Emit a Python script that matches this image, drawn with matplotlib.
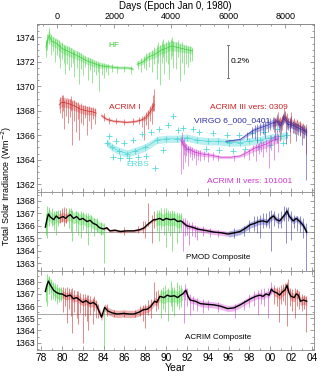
import matplotlib.pyplot as plt
import numpy as np
from matplotlib.ticker import MultipleLocator, FuncFormatter

plt.rcParams['font.family'] = ['Liberation Sans', 'DejaVu Sans']

nan = np.nan
pal = {'g': '#33cc33', 'r': '#cc2222', 'm': '#cc33cc', 'b': '#2a2aa8', 'c': '#55d8d8'}

# x is the year - 1900, values in W/m2

# ---------------- top panel: the single radiometers ----------------
hf_x = [78.45, 78.77, 79.0, 79.5, 80.0, 80.75, 81.5, 82.35, 83.0, 83.6, 84.5, 85.5, 86.4, 86.85, nan,
        87.2, 87.8, 88.3, 88.9, 89.6, 90.0, 90.5, 91.0, 91.5, 92.0, 92.55]
hf_y = [1373.2, 1374.2, 1373.7, 1373.5, 1373.1, 1372.8, 1372.5, 1372.1, 1371.9, 1371.7, 1371.6, 1371.5, 1371.5, 1371.4, nan,
        1371.8, 1372.0, 1372.4, 1372.6, 1373.0, 1373.1, 1373.3, 1373.2, 1373.1, 1373.0, 1372.9]
hf_w = [0.4, 0.4, 0.4, 0.4, 0.4, 0.4, 0.35, 0.3, 0.3, 0.25, 0.15, 0.12, 0.12, 0.12, nan,
        0.2, 0.25, 0.3, 0.35, 0.4, 0.4, 0.4, 0.4, 0.35, 0.3, 0.3]
hf_spikes = [(78.5, 1372.4, 1373.8), (78.6, 1373.0, 1374.3), (78.77, 1373.5, 1374.8), (78.9, 1372.6, 1374.3),
             (79.1, 1372.9, 1374.0), (79.3, 1372.0, 1373.9), (79.5, 1372.6, 1373.9), (79.7, 1372.3, 1373.8),
             (79.8, 1371.5, 1373.5), (80.0, 1372.2, 1373.6), (80.2, 1371.9, 1373.4), (80.3, 1371.0, 1373.3),
             (80.5, 1371.8, 1373.3), (80.7, 1371.3, 1373.2), (80.9, 1371.6, 1373.1), (81.1, 1371.9, 1373.0),
             (81.2, 1370.8, 1372.9), (81.4, 1371.5, 1372.9), (81.6, 1370.2, 1372.8), (81.8, 1371.4, 1372.7),
             (82.0, 1370.9, 1372.6), (82.2, 1371.6, 1372.5), (82.5, 1370.5, 1372.4), (82.7, 1371.3, 1372.3),
             (82.9, 1370.3, 1372.2), (83.1, 1371.2, 1372.1), (83.3, 1370.9, 1372.1), (83.5, 1371.2, 1372.0),
             (83.6, 1369.6, 1371.9), (83.8, 1370.9, 1371.9), (84.0, 1370.7, 1371.9), (84.2, 1371.2, 1371.8),
             (84.4, 1370.9, 1371.8), (84.8, 1371.2, 1371.8), (85.3, 1371.1, 1371.7), (86.0, 1371.2, 1371.7),
             (86.6, 1371.0, 1371.7), (87.3, 1371.4, 1372.1), (87.6, 1371.2, 1372.3), (87.9, 1371.5, 1372.5),
             (88.1, 1371.3, 1372.7), (88.4, 1371.6, 1372.8), (88.6, 1371.2, 1373.0), (88.8, 1371.8, 1373.2),
             (89.1, 1370.6, 1373.4), (89.2, 1371.9, 1373.6), (89.4, 1370.1, 1373.4), (89.6, 1371.9, 1373.7),
             (89.7, 1372.4, 1373.9), (89.8, 1371.0, 1373.5), (90.0, 1372.0, 1373.6), (90.2, 1371.8, 1373.8),
             (90.3, 1370.6, 1373.6), (90.5, 1372.2, 1373.9), (90.6, 1372.5, 1374.0), (90.7, 1371.5, 1373.7),
             (90.9, 1371.4, 1373.6), (91.1, 1372.4, 1373.8), (91.3, 1370.4, 1373.5), (91.5, 1371.9, 1373.6),
             (91.7, 1371.0, 1373.4), (91.9, 1371.8, 1373.4), (92.1, 1371.6, 1373.3), (92.3, 1372.0, 1373.3),
             (92.5, 1372.1, 1373.1)]

a1_x = [79.73, 80.0, 80.6, 81.2, 81.7, 82.3, 83.0, 83.3, nan, 83.8, 84.3, 84.9, 85.5, 86.2, 87.0, 87.66, 88.0, 88.3, 88.6, 88.87]
a1_y = [1368.5, 1368.7, 1368.6, 1368.4, 1368.15, 1368.0, 1367.9, 1367.8, nan,
        1367.6, 1367.3, 1367.15, 1367.1, 1367.05, 1367.1, 1367.25, 1367.4, 1367.7, 1368.1, 1368.5]
a1_w = [0.4, 0.4, 0.4, 0.4, 0.35, 0.35, 0.3, 0.3, nan, 0.15, 0.12, 0.1, 0.1, 0.1, 0.1, 0.12, 0.25, 0.3, 0.35, 0.4]
a1_spikes = [(79.8, 1367.8, 1369.1), (80.0, 1367.4, 1369.3), (80.1, 1368.0, 1369.3), (80.2, 1366.5, 1368.9),
             (80.4, 1367.6, 1369.0), (80.6, 1367.0, 1369.0), (80.8, 1367.5, 1369.0), (80.9, 1368.0, 1369.2),
             (81.0, 1365.2, 1368.8), (81.2, 1367.2, 1368.9), (81.3, 1366.3, 1368.7), (81.5, 1367.3, 1368.7),
             (81.6, 1365.6, 1368.5), (81.8, 1367.0, 1368.6), (82.0, 1366.8, 1368.5), (82.2, 1367.4, 1368.5),
             (82.4, 1366.0, 1368.4), (82.6, 1367.2, 1368.4), (82.8, 1366.5, 1368.3), (83.0, 1367.3, 1368.3),
             (83.2, 1366.9, 1368.2), (84.0, 1367.2, 1367.8), (84.5, 1366.9, 1367.5), (85.2, 1366.9, 1367.4),
             (86.0, 1366.8, 1367.3), (86.8, 1366.8, 1367.4), (87.4, 1366.9, 1367.5), (87.7, 1366.7, 1367.6),
             (87.9, 1365.6, 1367.6), (88.1, 1366.8, 1367.9), (88.3, 1366.5, 1368.1), (88.45, 1367.2, 1368.4),
             (88.6, 1366.9, 1368.6), (88.7, 1368.0, 1369.3), (88.85, 1368.0, 1369.8)]

erbs_x = [84.3, 84.8, 85.5, 86.25, 87.0, 88.0, 89.1, 90.0, 91.0, 92.0, 93.0, 94.0, 95.0, 96.0, 97.1, 98.0, 99.0, 100.0, 101.0, 101.6]
erbs_y = [1365.4, 1365.0, 1364.7, 1364.5, 1364.7, 1365.0, 1365.6, 1365.7, 1365.7, 1365.8, 1365.6, 1365.5, 1365.5, 1365.4,
          1365.4, 1365.5, 1365.6, 1365.8, 1365.9, 1366.0]
erbs_px = [84.5, 84.9, 85.2, 85.6, 86.0, 86.4, 86.8, 87.3, 87.7, 88.1, 88.5, 88.9, 89.3, 89.7, 90.2, 90.7, 91.1,
           91.6, 92.1, 92.6, 93.2, 93.8, 94.5, 95.1, 95.8, 96.4, 97.0, 97.6, 98.2, 98.8, 99.4, 100.0, 100.6, 101.2]
erbs_py = [1365.9, 1364.2, 1365.5, 1364.1, 1365.4, 1364.1, 1365.6, 1364.2, 1366.1, 1364.3, 1366.3, 1363.3, 1366.5, 1364.8,
           1366.8, 1367.6, 1366.4, 1366.6, 1364.9, 1366.5, 1366.3, 1364.9, 1366.2, 1364.8, 1366.0, 1364.7, 1366.0,
           1364.9, 1366.2, 1365.0, 1366.3, 1365.2, 1366.5, 1365.4]

a2_x = [91.4, 91.7, 92.0, 92.8, 93.5, 94.4, 95.2, 96.2, 97.1, 97.8, 98.4, 99.0, 99.7, 100.3, 100.8]
a2_y = [1365.6, 1365.2, 1364.9, 1364.6, 1364.45, 1364.35, 1364.2, 1364.2, 1364.3, 1364.6, 1364.9, 1365.1, 1365.3, 1365.6, 1365.7]
a2_w = [0.4, 0.35, 0.3, 0.25, 0.2, 0.15, 0.12, 0.12, 0.12, 0.2, 0.25, 0.3, 0.3, 0.35, 0.35]
a2_spikes = [(91.45, 1362.8, 1365.8), (91.5, 1365.2, 1366.3), (91.6, 1363.2, 1365.6), (91.7, 1364.4, 1365.8),
             (91.8, 1363.8, 1365.4), (91.95, 1364.3, 1365.3), (92.1, 1363.5, 1365.1), (92.3, 1364.2, 1365.1),
             (92.5, 1364.0, 1365.0), (92.7, 1364.1, 1364.9), (92.9, 1363.6, 1364.9), (93.1, 1364.0, 1364.8),
             (93.3, 1363.9, 1364.8), (93.6, 1364.0, 1364.7), (94.0, 1363.8, 1364.6), (94.5, 1364.0, 1364.6),
             (95.0, 1363.9, 1364.4), (96.5, 1363.9, 1364.4), (97.5, 1364.1, 1364.8), (98.0, 1364.0, 1364.9),
             (98.3, 1364.3, 1365.2), (98.6, 1363.9, 1365.3), (98.9, 1364.5, 1365.4), (99.1, 1364.6, 1365.5),
             (99.3, 1364.2, 1365.5), (99.6, 1364.6, 1365.7), (99.9, 1363.3, 1365.6), (100.1, 1364.8, 1366.0),
             (100.4, 1364.0, 1366.0), (100.6, 1365.4, 1366.4), (100.7, 1364.6, 1366.1)]

a3_x = [100.3, 100.6, 101.0, 101.3, 101.7, 102.2, 102.7, 103.2, 103.5]
a3_y = [1366.9, 1367.2, 1367.0, 1367.6, 1367.1, 1366.9, 1366.8, 1366.5, 1366.3]
a3_w = [0.35, 0.35, 0.35, 0.35, 0.35, 0.35, 0.35, 0.35, 0.35]
a3_spikes = [(100.4, 1366.3, 1367.5), (100.7, 1366.8, 1367.9), (100.9, 1365.5, 1367.5), (101.1, 1366.4, 1367.6),
             (101.3, 1367.0, 1368.2), (101.6, 1366.5, 1367.8), (101.9, 1365.4, 1367.5), (102.0, 1366.8, 1367.9),
             (102.3, 1366.2, 1367.4), (102.6, 1366.1, 1367.3), (102.9, 1366.0, 1367.2), (103.1, 1365.8, 1367.0),
             (103.4, 1364.5, 1366.9)]

vg_x = [95.7, 96.2, 97.1, 97.7, 98.4, 99.0, 99.7, 100.2, 100.6, 101.0, 101.3, 101.7, 102.2, 102.7, 103.2, 103.5]
vg_y = [1365.5, 1365.55, 1365.65, 1366.0, 1366.4, 1366.6, 1366.8, 1367.0, 1367.1, 1366.8, 1367.4, 1366.9, 1366.8,
        1366.6, 1366.4, 1366.2]
vg_w = [0.08, 0.08, 0.08, 0.15, 0.2, 0.25, 0.25, 0.3, 0.3, 0.3, 0.3, 0.3, 0.3, 0.3, 0.3, 0.3]
vg_spikes = [(97.8, 1365.6, 1366.3), (98.2, 1365.8, 1366.7), (98.5, 1365.7, 1366.8), (98.7, 1365.4, 1366.9),
             (99.0, 1366.0, 1367.0), (99.3, 1366.1, 1367.1), (99.5, 1365.8, 1367.2), (99.8, 1366.3, 1367.3),
             (100.0, 1366.4, 1367.4), (100.3, 1366.5, 1367.5), (100.5, 1365.6, 1367.4), (100.6, 1367.0, 1367.7),
             (100.8, 1366.3, 1367.3), (101.0, 1366.2, 1367.2), (101.2, 1366.8, 1367.7), (101.4, 1367.3, 1368.0),
             (101.5, 1365.3, 1367.6), (101.7, 1366.4, 1367.4), (101.9, 1366.3, 1367.3), (102.0, 1366.7, 1367.6),
             (102.2, 1366.2, 1367.2), (102.4, 1366.1, 1367.1), (102.5, 1365.5, 1367.0), (102.7, 1366.0, 1367.0),
             (102.9, 1365.9, 1366.9), (103.0, 1365.2, 1366.8), (103.2, 1365.8, 1366.8), (103.4, 1362.3, 1366.6)]

# ---------------- PMOD composite ----------------
pm_pts = [(78.4, 1365.9), (78.55, 1366.5), (78.7, 1366.95), (78.9, 1366.7), (79.2, 1366.5), (79.45, 1366.8),
          (79.7, 1366.6), (80.1, 1366.75), (80.35, 1366.6), (80.6, 1366.8), (80.8, 1366.9), (81.1, 1366.6),
          (81.4, 1366.75), (81.7, 1366.5), (82.0, 1366.6), (82.4, 1366.35), (82.7, 1366.45), (83.0, 1366.2),
          (83.3, 1366.1), (83.6, 1365.85), (83.8, 1365.8), (84.0, 1365.75), (84.3, 1365.85), (84.6, 1365.6),
          (85.1, 1365.65), (85.6, 1365.55), (86.2, 1365.6), (86.9, 1365.6), (87.5, 1365.7), (87.9, 1365.85),
          (88.2, 1366.1), (88.5, 1366.3), (88.8, 1366.5), (89.0, 1366.5), (89.4, 1366.6), (89.7, 1366.45),
          (90.0, 1366.6), (90.4, 1366.5), (90.8, 1366.55), (91.1, 1366.35), (91.4, 1366.4), (91.5, 1366.35),
          (92.0, 1366.0), (92.5, 1365.9), (93.0, 1365.75), (93.3, 1365.7), (94.0, 1365.6), (94.6, 1365.5),
          (95.3, 1365.45), (95.9, 1365.35), (96.0, 1365.35), (96.6, 1365.45), (97.1, 1365.55), (97.6, 1365.8),
          (98.1, 1366.1), (98.5, 1366.2), (98.9, 1366.35), (99.3, 1366.4), (99.7, 1366.3), (100.0, 1366.6),
          (100.3, 1366.8), (100.6, 1366.5), (100.9, 1366.4), (101.2, 1366.7), (101.4, 1366.9), (101.6, 1367.2),
          (101.8, 1366.8), (102.0, 1366.6), (102.2, 1366.4), (102.5, 1366.6), (102.9, 1366.3), (103.2, 1366.0),
          (103.5, 1365.5)]
pm_seg = [78.4, 79.7, 80.6, 84.0, 89.0, 91.5, 96.0, 103.5]
pm_seg_col = "grgrgmb"
pm_seg_w = [0.45, 0.35, 0.45, 0.12, 0.5, 0.2, 0.25]
pm_spikes = [(78.5, 'g', 1365.3, 1367.0), (78.6, 'g', 1365.0, 1367.6), (78.8, 'g', 1366.0, 1367.5),
             (79.0, 'g', 1366.0, 1367.4), (79.2, 'g', 1365.7, 1367.2), (79.4, 'g', 1365.3, 1367.2),
             (79.6, 'g', 1366.0, 1367.3), (79.8, 'r', 1366.2, 1367.3), (80.0, 'r', 1366.3, 1367.4),
             (80.2, 'r', 1366.0, 1367.5), (80.4, 'r', 1366.2, 1367.4), (80.7, 'g', 1365.8, 1367.4),
             (80.9, 'g', 1365.5, 1367.4), (81.0, 'g', 1364.8, 1367.3), (81.3, 'g', 1365.6, 1367.2),
             (81.5, 'g', 1365.3, 1367.1), (81.8, 'g', 1365.0, 1367.2), (82.0, 'g', 1365.7, 1367.1),
             (82.3, 'g', 1365.4, 1367.0), (82.5, 'g', 1364.5, 1367.0), (82.8, 'g', 1365.5, 1366.9),
             (83.1, 'g', 1365.2, 1366.6), (83.4, 'g', 1365.5, 1366.6), (83.7, 'g', 1365.3, 1366.3),
             (84.0, 'g', 1363.0, 1366.2), (86.0, 'r', 1365.3, 1365.9), (87.3, 'r', 1365.4, 1366.0),
             (87.8, 'r', 1365.4, 1366.4), (88.0, 'r', 1365.0, 1366.4), (88.3, 'r', 1366.0, 1367.8),
             (88.6, 'r', 1364.6, 1366.9), (88.8, 'r', 1365.8, 1367.2), (89.1, 'g', 1365.6, 1367.3),
             (89.3, 'g', 1364.8, 1367.3), (89.5, 'g', 1365.7, 1367.4), (89.8, 'g', 1365.3, 1367.4),
             (90.0, 'g', 1364.3, 1367.4), (90.2, 'g', 1365.6, 1367.3), (90.4, 'g', 1365.2, 1367.2),
             (90.6, 'g', 1364.0, 1367.3), (90.8, 'g', 1365.5, 1367.2), (91.0, 'g', 1364.6, 1367.1),
             (91.2, 'g', 1365.4, 1367.0), (91.4, 'g', 1365.6, 1367.0), (91.6, 'm', 1364.0, 1366.6),
             (91.8, 'm', 1365.2, 1366.6), (92.0, 'm', 1365.3, 1366.5), (92.2, 'm', 1364.5, 1366.3),
             (92.5, 'm', 1365.2, 1366.3), (92.8, 'm', 1365.1, 1366.1), (93.0, 'm', 1364.9, 1366.0),
             (93.5, 'm', 1365.2, 1366.0), (94.2, 'm', 1365.1, 1365.8), (95.0, 'm', 1365.1, 1365.7),
             (96.5, 'b', 1365.0, 1365.8), (97.5, 'b', 1365.2, 1366.0), (98.0, 'b', 1365.5, 1366.5),
             (98.4, 'b', 1365.6, 1366.8), (98.7, 'b', 1365.4, 1366.8), (99.0, 'b', 1365.0, 1366.9),
             (99.3, 'b', 1365.8, 1367.0), (99.6, 'b', 1365.9, 1367.0), (99.9, 'b', 1365.8, 1367.2),
             (100.1, 'b', 1364.0, 1367.3), (100.4, 'b', 1366.0, 1367.2), (100.7, 'b', 1365.8, 1367.0),
             (101.0, 'b', 1365.8, 1367.2), (101.3, 'b', 1366.4, 1367.6), (101.5, 'b', 1364.6, 1367.5),
             (101.7, 'b', 1366.4, 1367.5), (102.0, 'b', 1364.9, 1367.2), (102.3, 'b', 1365.8, 1366.9),
             (102.6, 'b', 1365.6, 1366.8), (102.9, 'b', 1365.5, 1366.8), (103.1, 'b', 1365.0, 1366.6),
             (103.4, 'b', 1362.4, 1366.2)]
pm_ref = 1365.5

# ---------------- ACRIM composite ----------------
ac_pts = [(78.4, 1367.2), (78.55, 1367.7), (78.7, 1368.05), (78.9, 1367.7), (79.2, 1367.3), (79.5, 1367.1),
          (79.8, 1367.0), (80.0, 1367.0), (80.4, 1366.8), (80.8, 1366.9), (81.1, 1366.6), (81.4, 1366.7),
          (81.7, 1366.5), (82.0, 1366.3), (82.3, 1366.45), (82.7, 1366.2), (83.0, 1366.3), (83.3, 1366.1),
          (83.6, 1365.5), (83.8, 1365.1), (84.1, 1365.9), (84.4, 1365.6), (84.8, 1365.45), (85.3, 1365.35),
          (85.9, 1365.4), (86.5, 1365.35), (86.9, 1365.35), (87.4, 1365.5), (87.8, 1365.7), (88.2, 1365.75),
          (88.5, 1365.95), (88.9, 1366.4), (89.1, 1366.3), (89.4, 1366.8), (89.8, 1366.7), (90.1, 1366.9),
          (90.4, 1366.8), (90.8, 1366.85), (91.1, 1366.7), (91.4, 1366.9), (91.6, 1367.0), (91.9, 1367.3),
          (92.1, 1366.8), (92.3, 1366.5), (92.8, 1366.4), (93.3, 1366.2), (93.9, 1366.15), (94.6, 1366.1),
          (95.2, 1366.0), (95.9, 1365.8), (96.5, 1365.85), (97.1, 1366.1), (97.6, 1366.35), (98.1, 1366.6),
          (98.6, 1366.8), (99.0, 1366.9), (99.3, 1366.8), (99.6, 1367.0), (99.9, 1366.9), (100.1, 1367.4),
          (100.3, 1367.2), (100.6, 1367.1), (100.9, 1366.9), (101.2, 1367.2), (101.4, 1367.3), (101.6, 1367.7),
          (101.8, 1367.1), (102.0, 1366.8), (102.3, 1366.7), (102.5, 1367.0), (102.7, 1366.9), (102.9, 1366.4),
          (103.2, 1366.5), (103.5, 1366.4)]
ac_seg = [78.4, 80.0, 89.4, 91.6, 100.3, 103.5]
ac_seg_col = "grgmr"
ac_seg_w = [0.45, 0.3, 0.5, 0.25, 0.35]
ac_spikes = [(78.5, 'g', 1366.3, 1367.8), (78.6, 'g', 1366.0, 1368.6), (78.8, 'g', 1367.0, 1368.5),
             (78.9, 'g', 1366.5, 1368.2), (79.1, 'g', 1366.6, 1368.0), (79.3, 'g', 1366.4, 1367.9),
             (79.5, 'g', 1366.2, 1367.8), (79.7, 'g', 1366.3, 1367.6), (79.9, 'g', 1366.4, 1367.6),
             (80.1, 'r', 1365.5, 1367.6), (80.3, 'r', 1366.0, 1367.5), (80.5, 'r', 1364.6, 1367.6),
             (80.7, 'r', 1365.8, 1367.5), (80.9, 'r', 1365.2, 1367.4), (81.0, 'r', 1363.8, 1367.5),
             (81.2, 'r', 1365.5, 1367.3), (81.4, 'r', 1365.0, 1367.2), (81.5, 'r', 1364.5, 1367.2),
             (81.7, 'r', 1365.4, 1367.1), (82.0, 'r', 1363.0, 1367.0), (82.2, 'r', 1365.2, 1367.0),
             (82.4, 'r', 1364.8, 1366.9), (82.5, 'r', 1364.0, 1366.9), (82.7, 'r', 1365.3, 1366.8),
             (83.0, 'r', 1364.5, 1366.7), (83.1, 'r', 1365.6, 1366.8), (83.3, 'r', 1365.0, 1366.5),
             (83.5, 'r', 1365.0, 1366.2), (84.0, 'g', 1362.6, 1366.0), (84.3, 'r', 1365.2, 1366.2),
             (85.0, 'r', 1365.1, 1365.7), (86.0, 'r', 1365.1, 1365.6), (87.0, 'r', 1365.1, 1365.7),
             (87.5, 'r', 1365.2, 1366.0), (87.8, 'r', 1364.8, 1366.1), (88.0, 'r', 1364.2, 1366.2),
             (88.3, 'r', 1365.3, 1366.5), (88.5, 'r', 1365.0, 1366.6), (88.8, 'r', 1366.3, 1368.0),
             (89.0, 'r', 1365.6, 1367.2), (89.2, 'r', 1365.8, 1367.3), (89.5, 'g', 1365.0, 1367.4),
             (89.7, 'g', 1365.8, 1367.6), (89.9, 'g', 1365.5, 1367.7), (90.2, 'g', 1364.8, 1367.5),
             (90.5, 'g', 1366.0, 1368.1), (90.6, 'g', 1365.6, 1367.6), (90.8, 'g', 1365.2, 1367.6),
             (91.0, 'g', 1366.0, 1368.0), (91.2, 'g', 1365.8, 1367.7), (91.4, 'g', 1365.9, 1367.7),
             (91.7, 'm', 1364.6, 1367.3), (91.8, 'm', 1366.5, 1367.8), (92.0, 'm', 1366.0, 1367.5),
             (92.3, 'm', 1365.3, 1367.0), (92.6, 'm', 1365.7, 1366.8), (93.0, 'm', 1365.6, 1366.7),
             (93.5, 'm', 1365.4, 1366.6), (94.0, 'm', 1365.7, 1366.5), (95.0, 'm', 1365.5, 1366.3),
             (96.6, 'm', 1365.0, 1366.2), (97.5, 'm', 1365.7, 1366.5), (98.0, 'm', 1365.9, 1367.0),
             (98.4, 'm', 1366.0, 1367.2), (98.8, 'm', 1365.3, 1367.3), (99.1, 'm', 1366.2, 1367.4),
             (99.4, 'm', 1366.0, 1367.5), (99.8, 'm', 1365.0, 1367.5), (100.1, 'm', 1367.0, 1368.0),
             (100.4, 'r', 1366.2, 1367.7), (100.6, 'r', 1366.0, 1367.6), (100.8, 'r', 1364.7, 1367.6),
             (101.0, 'r', 1366.2, 1367.7), (101.2, 'r', 1366.4, 1367.8), (101.4, 'r', 1366.1, 1367.9),
             (101.6, 'r', 1364.4, 1367.9), (101.7, 'r', 1367.3, 1368.2), (101.9, 'r', 1366.0, 1367.5),
             (102.1, 'r', 1365.6, 1367.4), (102.4, 'r', 1365.0, 1367.5), (102.6, 'r', 1366.0, 1367.4),
             (102.8, 'r', 1365.8, 1367.2), (103.0, 'r', 1365.6, 1367.0), (103.2, 'r', 1365.8, 1366.9),
             (103.4, 'r', 1363.9, 1366.8)]
ac_ref = 1365.35

DAY0 = 79.54  # where day 0 sits on the year axis in the picture


def noisy(ax, x, y, w, color, spikes):
    x = np.array(x, float)
    y = np.array(y, float)
    w = np.array(w, float)
    ax.fill_between(x, y - w, y + w, color=color, alpha=0.3, lw=0, zorder=2)
    ax.plot(x, y, color=color, lw=0.5, alpha=0.9, zorder=2)
    sx, lo, hi = zip(*spikes)
    ax.vlines(sx, lo, hi, color=color, lw=0.5, alpha=0.7, zorder=2)


def composite(ax, pts, seg, segcol, segw, spikes, ref, label):
    x, y = (np.array(a, float) for a in zip(*pts))
    ax.axhline(ref, color='#999999', lw=0.6, zorder=1)
    for i, c in enumerate(segcol):
        m = (x >= seg[i]) & (x <= seg[i + 1])
        ax.fill_between(x[m], y[m] - segw[i], y[m] + segw[i], color=pal[c], alpha=0.35, lw=0, zorder=2)
    for xx, c, lo, hi in spikes:
        ax.vlines(xx, lo, hi, color=pal[c], lw=0.5, alpha=0.75, zorder=2)
    ax.plot(x, y, color='black', lw=1.0, zorder=3)
    ax.text(95.0, 1363.45, label, fontsize=5.8, ha='center', va='center')


fig = plt.figure(figsize=(3.2, 3.76), dpi=100)
L, W = 37 / 320, 277 / 320
ax1 = fig.add_axes([L, 1 - 192 / 376, W, 168 / 376])
ax2 = fig.add_axes([L, 1 - 271 / 376, W, 79 / 376], sharex=ax1)
ax3 = fig.add_axes([L, 1 - 350 / 376, W, 79 / 376], sharex=ax1)

noisy(ax1, hf_x, hf_y, hf_w, pal['g'], hf_spikes)
noisy(ax1, a1_x, a1_y, a1_w, pal['r'], a1_spikes)
ex = np.array(erbs_x)
ey = np.array(erbs_y)
ax1.fill_between(ex, ey - 0.3, ey + 0.3, color=pal['c'], alpha=0.4, lw=0, zorder=2)
ax1.plot(ex, ey, color=pal['c'], lw=0.5, marker='+', ms=4, mew=0.6, zorder=2)
ax1.plot(erbs_px, erbs_py, ls='none', color=pal['c'], marker='+', ms=4, mew=0.6, zorder=2)
noisy(ax1, a2_x, a2_y, a2_w, pal['m'], a2_spikes)
noisy(ax1, a3_x, a3_y, a3_w, pal['r'], a3_spikes)
noisy(ax1, vg_x, vg_y, vg_w, pal['b'], vg_spikes)

fs = 6.0
ax1.text(85.0, 1373.3, 'HF', color=pal['g'], fontsize=fs, ha='center', va='center')
ax1.text(86.0, 1368.3, 'ACRIM I', color=pal['r'], fontsize=fs, ha='center', va='center')
ax1.text(97.9, 1368.3, 'ACRIM III vers: 0309', color=pal['r'], fontsize=fs, ha='center', va='center')
ax1.text(96.3, 1367.2, 'VIRGO 6_000_0401', color=pal['b'], fontsize=fs, ha='center', va='center')
ax1.text(87.3, 1363.6, 'ERBS', color=pal['c'], fontsize=fs, ha='center', va='center')
ax1.text(98.0, 1362.2, 'ACRIM II vers: 101001', color=pal['m'], fontsize=fs, ha='center', va='center')

# 0.2 % scale bar
ax1.plot([95.9, 95.9], [1370.7, 1373.4], color='#777777', lw=0.7)
ax1.plot([95.8, 96.0], [1370.7, 1370.7], color='#777777', lw=0.7)
ax1.plot([95.8, 96.0], [1373.4, 1373.4], color='#777777', lw=0.7)
ax1.text(96.15, 1372.05, '0.2%', fontsize=fs, va='center')

composite(ax2, pm_pts, pm_seg, pm_seg_col, pm_seg_w, pm_spikes, pm_ref, 'PMOD Composite')
composite(ax3, ac_pts, ac_seg, ac_seg_col, ac_seg_w, ac_spikes, ac_ref, 'ACRIM Composite')

ax1.set_ylim(1361.35, 1375.1)
ax2.set_ylim(1362.38, 1368.72)
ax3.set_ylim(1362.4, 1368.88)
ax1.set_xlim(77.6, 104.2)

ax1.yaxis.set_major_locator(MultipleLocator(2))
ax1.yaxis.set_minor_locator(MultipleLocator(0.5))
for ax in (ax2, ax3):
    ax.yaxis.set_major_locator(MultipleLocator(1))
    ax.yaxis.set_minor_locator(MultipleLocator(0.5))

for ax in (ax1, ax2, ax3):
    ax.xaxis.set_major_locator(MultipleLocator(2))
    ax.xaxis.set_minor_locator(MultipleLocator(1))
    ax.tick_params(which='both', direction='in', top=True, right=True, color='#777777', width=0.5,
                   labelsize=6.3, pad=1.5)
    ax.tick_params(which='major', length=3)
    ax.tick_params(which='minor', length=1.5)
    for s in ax.spines.values():
        s.set_color('#888888')
        s.set_linewidth(0.6)
ax1.tick_params(which='both', top=False, labelbottom=False)
ax2.tick_params(labelbottom=False)
ax3.xaxis.set_major_formatter(FuncFormatter(lambda v, p: '%02d' % (int(round(v)) % 100)))
ax3.tick_params(axis='x', labelsize=7.3, pad=2)
ax3.set_xlabel('Year', fontsize=7.5, labelpad=0)

sec = ax1.secondary_xaxis('top', functions=(lambda t: (t - DAY0) * 365.25, lambda d: d / 365.25 + DAY0))
sec.set_xticks([0, 2000, 4000, 6000, 8000])
sec.xaxis.set_minor_locator(MultipleLocator(500))
sec.tick_params(which='both', direction='in', color='#777777', width=0.5, labelsize=6.5, pad=2)
sec.tick_params(which='major', length=3)
sec.tick_params(which='minor', length=1.5)
sec.spines['top'].set_color('#888888')
sec.spines['top'].set_linewidth(0.6)
sec.set_xlabel('Days (Epoch Jan 0, 1980)', fontsize=7, labelpad=2)

fig.text(6.5 / 320, 1 - 186 / 376, 'Total Solar Irradiance (Wm$^{-2}$)', rotation=90, fontsize=6.4,
         ha='center', va='center')

fig.savefig('out.png', dpi=100)
